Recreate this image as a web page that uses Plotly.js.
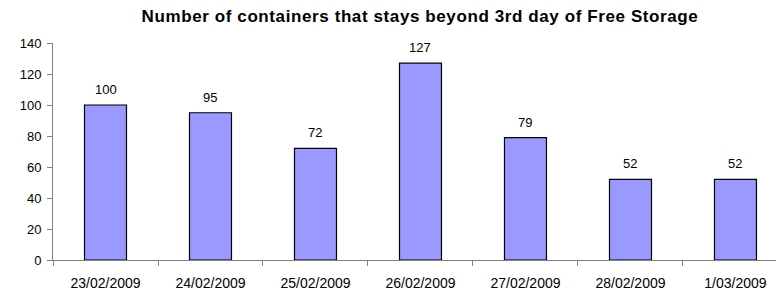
<!DOCTYPE html>
<html>
<head>
<meta charset="utf-8">
<script src="https://cdn.plot.ly/plotly-3.0.1.min.js"></script>
<style>
html,body{margin:0;padding:0;background:#fff;}
#chart{width:776px;height:293px;}
#chart .gtitle{letter-spacing:0.6px;}
</style>
</head>
<body>
<div id="chart"></div>
<script>
const categories = ["23/02/2009","24/02/2009","25/02/2009","26/02/2009","27/02/2009","28/02/2009","1/03/2009"];
const containers = [100, 95, 72, 127, 79, 52, 52];
const yTicks = [0, 20, 40, 60, 80, 100, 120, 140];

const FONT = 'Liberation Sans, Arial, sans-serif';

const trace = {
  type: 'bar',
  x: categories,
  y: containers,
  width: 0.4,
  marker: {color: '#9999FF', line: {color: '#000000', width: 1.2}},
  hoverinfo: 'x+y'
};

const labels = categories.map((c, i) => ({
  x: c, y: containers[i], xref: 'x', yref: 'y',
  text: String(containers[i]),
  showarrow: false, yanchor: 'bottom', xanchor: 'center', yshift: 6,
  font: {family: FONT, size: 13, color: '#000'}
}));

const layout = {
  width: 776, height: 293,
  margin: {l: 53, r: 0, t: 43, b: 33},
  paper_bgcolor: '#fff', plot_bgcolor: '#fff',
  font: {family: FONT, size: 13, color: '#000'},
  title: {
    text: '<b>Number of containers that stays beyond 3rd day of Free Storage</b>',
    font: {family: FONT, size: 17, color: '#000'},
    xref: 'container', x: 420 / 776, xanchor: 'center',
    yref: 'container', y: 0.945, yanchor: 'middle'
  },
  showlegend: false,
  annotations: labels,
  xaxis: {
    type: 'category',
    range: [-0.5, 6.386],
    showline: true, linecolor: '#808080', linewidth: 1,
    ticks: 'outside', ticklen: 5, tickcolor: '#808080', tickson: 'boundaries',
    ticklabelstandoff: 10,
    showgrid: false, zeroline: false,
    tickfont: {size: 14}
  },
  yaxis: {
    range: [0, 140],
    tickvals: yTicks,
    showline: true, linecolor: '#808080', linewidth: 1,
    ticks: 'outside', ticklen: 5, tickcolor: '#808080',
    ticklabelstandoff: 3,
    showgrid: false, zeroline: false,
    tickfont: {size: 13}
  }
};

Plotly.newPlot('chart', [trace], layout, {displayModeBar: false, staticPlot: true});
</script>
</body>
</html>
